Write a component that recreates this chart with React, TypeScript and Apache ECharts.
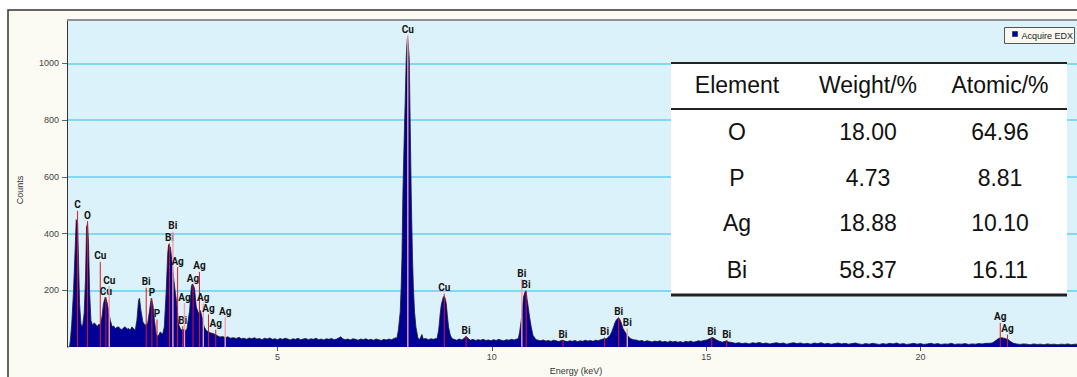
import React, { useEffect, useRef } from "react";
import * as echarts from "echarts";

// ---- spectrum: [energy keV, counts] ----
const lowEnergyRegion: [number, number][] = [
  [0.09, 0], [0.15, 0], [0.17, 25], [0.2, 80], [0.243, 200], [0.282, 353], [0.306, 449], [0.322, 440],
  [0.337, 435], [0.36, 300], [0.383, 153], [0.415, 82], [0.435, 76], [0.453, 71], [0.49, 118], [0.523, 247],
  [0.546, 423], [0.57, 435], [0.593, 359], [0.616, 200], [0.648, 94], [0.67, 84], [0.695, 77], [0.72, 85],
  [0.749, 82], [0.775, 76], [0.8, 73], [0.83, 80], [0.865, 77], [0.905, 106], [0.942, 153], [0.982, 176],
  [1.0, 170], [1.022, 159], [1.06, 129], [1.099, 94], [1.145, 71], [1.18, 74], [1.215, 65], [1.25, 69],
  [1.292, 71], [1.33, 64], [1.37, 61], [1.41, 68], [1.449, 71], [1.49, 63], [1.526, 65], [1.565, 60],
  [1.605, 71], [1.645, 64], [1.682, 59], [1.72, 94], [1.76, 165], [1.78, 172], [1.815, 129], [1.86, 88],
  [1.915, 77], [1.97, 82], [2.016, 129], [2.055, 172], [2.095, 147], [2.13, 94], [2.17, 47], [2.21, 35],
  [2.265, 53], [2.32, 45], [2.36, 71], [2.405, 200], [2.44, 330], [2.46, 361], [2.48, 355], [2.5, 353],
  [2.54, 300], [2.575, 247], [2.61, 200], [2.64, 165], [2.69, 82], [2.73, 66], [2.77, 59], [2.82, 62],
  [2.86, 58], [2.89, 65], [2.95, 129], [2.99, 212], [3.01, 222], [3.03, 220], [3.065, 206], [3.105, 141],
  [3.16, 118], [3.2, 129], [3.24, 106], [3.29, 71], [3.34, 58], [3.39, 53], [3.45, 49], [3.51, 47],
  [3.57, 42], [3.62, 38], [3.66, 35], [3.72, 37], [3.78, 33], [3.84, 36], [3.9, 31], [3.97, 33],
];

const midBaseline: [number, number][] = [
  [4.04, 30], [4.1, 34], [4.16, 29], [4.22, 31], [4.28, 27], [4.34, 32], [4.4, 29], [4.46, 33], [4.52, 28],
  [4.58, 30], [4.64, 26], [4.7, 31], [4.76, 28], [4.82, 32], [4.88, 27], [4.94, 29], [5.0, 26], [5.06, 30],
  [5.12, 27], [5.18, 31], [5.24, 28], [5.3, 25], [5.36, 29], [5.42, 27], [5.48, 31], [5.54, 26], [5.6, 28],
  [5.66, 30], [5.72, 26], [5.78, 29], [5.84, 27], [5.9, 31], [5.96, 26], [6.02, 28], [6.08, 25], [6.14, 29],
  [6.2, 27], [6.26, 30], [6.32, 26], [6.38, 28], [6.44, 33], [6.48, 36], [6.52, 29], [6.58, 26], [6.64, 28],
  [6.7, 25], [6.76, 29], [6.82, 27], [6.88, 24], [6.94, 28], [7.0, 26], [7.06, 29], [7.12, 25], [7.18, 27],
  [7.24, 24], [7.3, 28], [7.36, 26], [7.42, 23], [7.48, 27], [7.54, 25], [7.6, 28], [7.66, 26], [7.72, 30],
  [7.76, 33],
];

const copperKRegion: [number, number][] = [
  [7.786, 31], [7.82, 60], [7.863, 124], [7.885, 210], [7.903, 312], [7.926, 547], [7.945, 670], [7.964, 782],
  [7.985, 900], [8.003, 1017], [8.02, 1070], [8.034, 1094], [8.05, 1070], [8.073, 1017], [8.085, 900],
  [8.096, 782], [8.108, 660], [8.119, 547], [8.135, 420], [8.15, 312], [8.17, 210], [8.197, 124], [8.23, 70],
  [8.276, 31], [8.32, 27], [8.37, 44], [8.4, 28], [8.46, 30], [8.52, 26], [8.58, 29], [8.64, 27], [8.7, 30],
  [8.72, 28], [8.76, 60], [8.796, 118], [8.82, 148], [8.85, 167], [8.87, 177], [8.89, 179], [8.91, 172],
  [8.937, 153], [8.96, 115], [8.99, 71], [9.03, 42], [9.07, 30], [9.12, 27], [9.18, 24], [9.24, 28],
  [9.3, 25], [9.35, 30], [9.4, 38], [9.44, 31], [9.5, 24], [9.56, 27], [9.62, 23], [9.68, 26], [9.74, 24],
  [9.8, 27], [9.86, 23], [9.92, 25], [9.98, 22], [10.04, 26], [10.1, 23], [10.16, 27], [10.22, 24],
  [10.28, 22], [10.34, 26], [10.4, 24], [10.46, 27], [10.52, 25], [10.58, 28],
];

const bismuthLRegion: [number, number][] = [
  [10.62, 30], [10.65, 55], [10.686, 94], [10.71, 135], [10.74, 176], [10.765, 190], [10.79, 198],
  [10.805, 190], [10.82, 171], [10.85, 140], [10.88, 106], [10.92, 70], [10.96, 41], [11.03, 26],
  [11.08, 24], [11.14, 22], [11.2, 25], [11.26, 21], [11.32, 23], [11.38, 20], [11.44, 24], [11.5, 22],
  [11.56, 19], [11.62, 23], [11.66, 24], [11.7, 21], [11.76, 19], [11.82, 22], [11.88, 20], [11.94, 23],
  [12.0, 19], [12.06, 22], [12.12, 20], [12.18, 24], [12.24, 21], [12.3, 23], [12.36, 20], [12.42, 24],
  [12.48, 22], [12.54, 26], [12.6, 28], [12.63, 32], [12.66, 28], [12.7, 33], [12.76, 41], [12.8, 55],
  [12.84, 71], [12.87, 85], [12.9, 94], [12.93, 100], [12.955, 103], [12.975, 100], [12.995, 94],
  [13.03, 80], [13.06, 65], [13.1, 55], [13.135, 47], [13.18, 38], [13.23, 30], [13.3, 26], [13.385, 24],
  [13.44, 21], [13.5, 23], [13.56, 19], [13.62, 22], [13.68, 20], [13.74, 18], [13.8, 21], [13.86, 19],
  [13.92, 22], [13.98, 18], [14.04, 20], [14.1, 17], [14.16, 21], [14.22, 18], [14.28, 20], [14.34, 17],
  [14.4, 19], [14.46, 16], [14.52, 20], [14.58, 18], [14.64, 21], [14.7, 17], [14.76, 19], [14.82, 22],
  [14.88, 20], [14.94, 23], [15.02, 25], [15.06, 28], [15.095, 30], [15.13, 33], [15.16, 33], [15.2, 29],
  [15.23, 26], [15.28, 22], [15.33, 19], [15.38, 17], [15.44, 20], [15.48, 22], [15.52, 18],
];

const highEnergyRegion: [number, number][] = [
  [15.6, 16], [15.68, 13], [15.76, 15], [15.84, 12], [15.92, 14], [16.0, 11], [16.08, 15], [16.16, 13],
  [16.24, 16], [16.32, 12], [16.4, 14], [16.48, 11], [16.56, 13], [16.64, 15], [16.72, 12], [16.8, 14],
  [16.88, 10], [16.96, 13], [17.04, 15], [17.12, 12], [17.2, 14], [17.28, 11], [17.36, 13], [17.44, 10],
  [17.52, 14], [17.6, 12], [17.68, 15], [17.76, 11], [17.84, 13], [17.92, 10], [18.0, 12], [18.08, 14],
  [18.16, 11], [18.24, 13], [18.32, 10], [18.4, 12], [18.48, 14], [18.56, 11], [18.64, 9], [18.72, 12],
  [18.8, 10], [18.88, 13], [18.96, 11], [19.04, 9], [19.12, 12], [19.2, 10], [19.28, 13], [19.36, 11],
  [19.44, 14], [19.52, 10], [19.6, 12], [19.68, 9], [19.76, 11], [19.84, 13], [19.92, 10], [20.0, 12],
  [20.08, 9], [20.16, 11], [20.24, 13], [20.32, 10], [20.4, 12], [20.48, 9], [20.56, 11], [20.64, 10],
  [20.72, 13], [20.8, 9], [20.88, 11], [20.96, 10], [21.04, 12], [21.12, 9], [21.2, 11], [21.28, 10],
  [21.36, 12], [21.44, 11], [21.52, 13], [21.6, 13], [21.67, 14], [21.74, 21], [21.82, 30], [21.86, 32],
  [21.9, 33], [21.94, 31], [21.975, 30], [22.01, 28], [22.05, 26], [22.1, 19], [22.17, 13], [22.24, 11],
  [22.32, 9], [22.4, 11], [22.48, 10], [22.56, 8], [22.64, 11], [22.72, 9], [22.8, 10], [22.88, 8],
  [22.96, 11], [23.04, 9], [23.12, 10], [23.2, 8], [23.28, 10], [23.36, 9], [23.44, 11], [23.52, 8],
  [23.6, 10], [23.68, 9],
];

// ---- element marker lines ----
const markerEnergy = [0.337, 0.57, 0.866, 0.998, 1.075, 1.938, 2.07, 2.19, 2.48, 2.56, 2.67, 2.79, 2.83,
  3.03, 3.18, 3.27, 3.39, 3.56, 3.78, 8.04, 8.89, 9.4, 10.7, 10.8, 11.66, 12.63, 12.96, 13.16, 15.13,
  15.48, 21.86, 22.03];
const markerHeight = [480, 444, 300, 176, 215, 209, 171, 97, 365, 406, 282, 73, 155, 220, 265, 153, 115,
  61, 104, 1099, 188, 38, 239, 198, 24, 32, 104, 65, 33, 24, 85, 44];
const markerLabel = ["C", "O", "Cu", "Cu", "Cu", "Bi", "P", "P", "Bi", "Bi", "Ag", "Bi", "Ag", "Ag", "Ag",
  "Ag", "Ag", "Ag", "Ag", "Cu", "Cu", "Bi", "Bi", "Bi", "Bi", "Bi", "Bi", "Bi", "Bi", "Bi", "Ag", "Ag"];
const markerPale = [false, false, false, false, true, false, false, false, false, true, false, false, true,
  false, false, true, false, false, true, true, false, false, true, false, false, false, false, true, false,
  false, false, false];

// ---- axes ----
const xTicks = [5, 10, 15, 20];
const yTicks = [200, 400, 600, 800, 1000];

// ---- composition table ----
const tableHeader = ["Element", "Weight/%", "Atomic/%"];
const tableElements = ["O", "P", "Ag", "Bi"];
const tableWeight = ["18.00", "4.73", "18.88", "58.37"];
const tableAtomic = ["64.96", "8.81", "10.10", "16.11"];

const legendName = "Acquire EDX";

export default function App() {
  const ref = useRef<HTMLDivElement>(null);

  useEffect(() => {
    if (!ref.current) return;
    const chart = echarts.init(ref.current, undefined, { renderer: "svg" });
    const spectrum = [
      ...lowEnergyRegion,
      ...midBaseline,
      ...copperKRegion,
      ...bismuthLRegion,
      ...highEnergyRegion,
    ];
    const markers = markerEnergy.map((e, i) => [e, markerHeight[i], i]);

    const colX = [737, 868, 1000];
    const rowY = [131.7, 178, 222.8, 269.5];
    const tableFont = { fontSize: 23, fontFamily: "Liberation Sans, Arial, sans-serif", fill: "#111" };
    const tableTexts: any[] = [];
    tableHeader.forEach((h, i) =>
      tableTexts.push({ type: "text", x: colX[i], y: 85, style: { text: h, align: "center", verticalAlign: "middle", ...tableFont } })
    );
    tableElements.forEach((el, r) => {
      [el, tableWeight[r], tableAtomic[r]].forEach((t, c) =>
        tableTexts.push({ type: "text", x: colX[c], y: rowY[r], style: { text: t, align: "center", verticalAlign: "middle", ...tableFont } })
      );
    });

    const smallFont = { fontSize: 9, fontFamily: "Liberation Sans, Arial, sans-serif" };

    chart.setOption({
      animation: false,
      backgroundColor: "#ffffff",
      grid: {
        left: 67,
        top: 20,
        right: 0,
        bottom: 30,
        show: true,
        backgroundColor: "#dcf2fa",
        borderWidth: 0,
        z: 0,
      },
      xAxis: {
        type: "value",
        min: 0.09,
        max: 23.65,
        axisLine: { show: false },
        axisTick: { show: true, length: 4, lineStyle: { color: "#555" }, customValues: xTicks },
        axisLabel: { customValues: xTicks, margin: 5, color: "#444", formatter: (v: number) => String(v), ...smallFont },
        splitLine: { show: false },
      },
      yAxis: {
        type: "value",
        min: 0,
        max: 1153,
        axisLine: { show: true, lineStyle: { color: "#333", width: 1 } },
        axisTick: { show: true, length: 5, lineStyle: { color: "#666" }, customValues: yTicks },
        axisLabel: { customValues: yTicks, margin: 8, color: "#444", formatter: (v: number) => String(v), ...smallFont },
        splitLine: { show: true, lineStyle: { color: "#63d0ee", width: 1.5 } },
      },
      series: [
        {
          name: legendName,
          type: "line",
          data: spectrum,
          showSymbol: false,
          symbol: "none",
          color: "#000096",
          lineStyle: { color: "#1c1c30", width: 0.8 },
          areaStyle: { color: "#000096", opacity: 1 },
          z: 2,
        },
        {
          type: "custom",
          data: markers,
          z: 3,
          clip: false,
          renderItem: (params: any, api: any) => {
            const idx = params.dataIndex;
            const e = api.value(0);
            const h = api.value(1);
            const p0 = api.coord([e, 0]);
            const p1 = api.coord([e, h]);
            const pale = markerPale[idx];
            return {
              type: "group",
              children: [
                {
                  type: "line",
                  shape: { x1: p0[0], y1: p0[1], x2: p1[0], y2: p1[1] },
                  style: { stroke: pale ? "#f5a0a6" : "#e8141e", lineWidth: pale ? 1.4 : 1 },
                },
                {
                  type: "text",
                  x: p1[0],
                  y: p1[1] - 1,
                  style: {
                    text: markerLabel[idx],
                    align: "center",
                    verticalAlign: "bottom",
                    fontSize: 10,
                    fontWeight: "bold",
                    fontFamily: "Roboto, Liberation Sans, sans-serif",
                    fill: "#141414",
                  },
                },
              ],
            };
          },
        },
      ],
      graphic: [
        {
          type: "rect",
          z: -10,
          shape: { x: 8, y: 10, width: 1100, height: 400 },
          style: { fill: "#fbfbf3", stroke: "#333", lineWidth: 1.5 },
        },
        {
          type: "line",
          z: 10,
          shape: { x1: 67, y1: 20, x2: 1077, y2: 20 },
          style: { stroke: "#8d9297", lineWidth: 2 },
        },
        {
          type: "text",
          z: 10,
          x: 19.5,
          y: 190,
          rotation: Math.PI / 2,
          style: { text: "Counts", align: "center", verticalAlign: "middle", fill: "#333", ...smallFont },
        },
        {
          type: "text",
          z: 10,
          x: 576,
          y: 371,
          style: { text: "Energy (keV)", align: "center", verticalAlign: "middle", fill: "#333", ...smallFont },
        },
        {
          type: "group",
          z: 20,
          children: [
            { type: "rect", z: 20, shape: { x: 1004.5, y: 27.5, width: 70, height: 16 }, style: { fill: "#f8f8f0", stroke: "#555", lineWidth: 1 } },
            { type: "rect", z: 21, shape: { x: 1012.5, y: 31.5, width: 5, height: 5 }, style: { fill: "#00009a", stroke: "#000044", lineWidth: 0.5 } },
            { type: "text", z: 21, x: 1021.5, y: 35.5, style: { text: legendName, align: "left", verticalAlign: "middle", fill: "#222", ...smallFont } },
          ],
        },
        {
          type: "group",
          z: 30,
          children: [
            { type: "rect", z: 30, shape: { x: 671, y: 62, width: 396, height: 233 }, style: { fill: "#ffffff" } },
            { type: "line", z: 31, shape: { x1: 671, y1: 63, x2: 1067, y2: 63 }, style: { stroke: "#222", lineWidth: 2 } },
            { type: "line", z: 31, shape: { x1: 671, y1: 109, x2: 1067, y2: 109 }, style: { stroke: "#222", lineWidth: 2 } },
            { type: "line", z: 31, shape: { x1: 671, y1: 295, x2: 1067, y2: 295 }, style: { stroke: "#222", lineWidth: 3 } },
            ...tableTexts.map((t) => ({ ...t, z: 32 })),
          ],
        },
      ],
    });
    return () => chart.dispose();
  }, []);

  return <div ref={ref} style={{ position: "absolute", left: 0, top: 0, width: 1077, height: 377 }} />;
}
